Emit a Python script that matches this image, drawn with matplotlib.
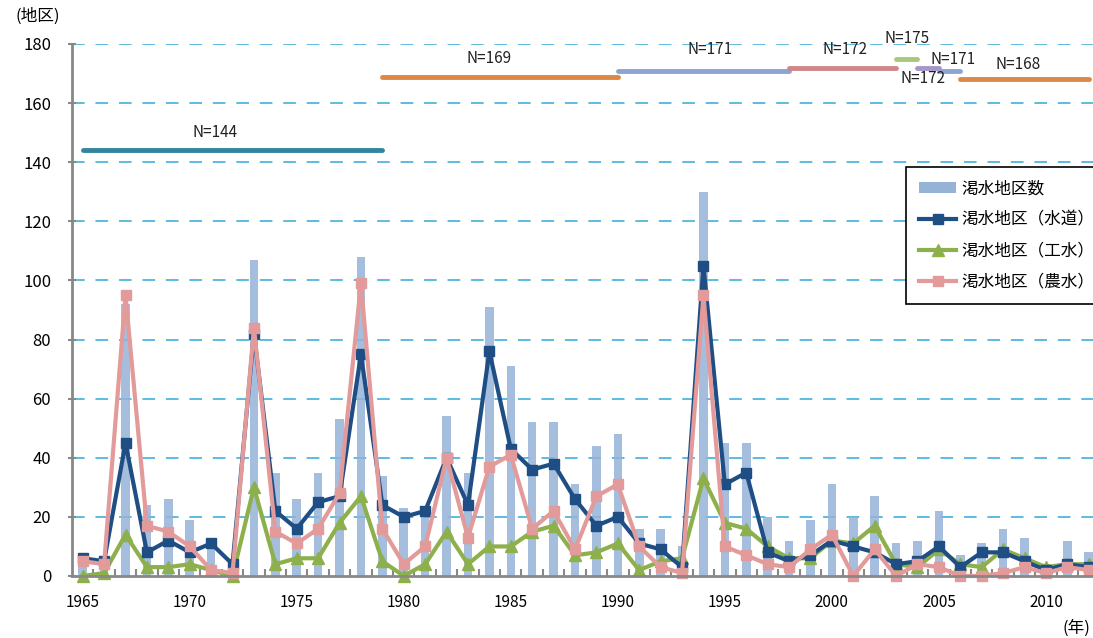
import numpy as np
import matplotlib
matplotlib.use('Agg')
import matplotlib.pyplot as plt
from matplotlib.lines import Line2D
from matplotlib.patches import Patch

plt.rcParams['font.family'] = ['Noto Sans CJK JP', 'DejaVu Sans']

# ---------------------------------------------------------------------------
# Data
# ---------------------------------------------------------------------------

YEARS = list(range(1965, 2013))

# 渇水地区数 (bars)
TOTAL = [7, 5, 92, 24, 26, 19, 9, 2, 107, 35,
         26, 35, 53, 108, 34, 23, 23, 54, 35, 91,
         71, 52, 52, 31, 44, 48, 16, 16, 10, 130,
         45, 45, 20, 12, 19, 31, 20, 27, 11, 12,
         22, 7, 11, 16, 13, 4, 12, 8]

# 渇水地区（水道）
WATER = [6, 5, 45, 8, 12, 8, 11, 4, 82, 22,
         16, 25, 27, 75, 24, 20, 22, 40, 24, 76,
         43, 36, 38, 26, 17, 20, 11, 9, 3, 105,
         31, 35, 8, 5, 7, 12, 10, 8, 4, 5,
         10, 3, 8, 8, 5, 2, 4, 3]

# 渇水地区（工水）
INDUSTRY = [0, 1, 14, 3, 3, 4, 2, 0, 30, 4,
            6, 6, 18, 27, 5, 0, 4, 15, 4, 10,
            10, 15, 17, 7, 8, 11, 2, 5, 6, 33,
            18, 16, 10, 6, 6, 12, 11, 17, 4, 3,
            9, 4, 3, 9, 6, 3, 4, 4]

# 渇水地区（農水）
AGRI = [5, 4, 95, 17, 15, 10, 2, 1, 84, 15,
        11, 16, 28, 99, 16, 4, 10, 40, 13, 37,
        41, 16, 22, 9, 27, 31, 10, 3, 1, 95,
        10, 7, 4, 3, 9, 14, 0, 9, 0, 4,
        3, 0, 0, 1, 3, 1, 3, 2]

# number of surveyed districts per period
N_START = [1965, 1979, 1990, 1998, 2003, 2004, 2005, 2006]
N_END = [1979, 1990, 1998, 2003, 2004, 2005, 2006, 2012]
N_VALUE = [144, 169, 171, 172, 175, 172, 171, 168]

# label placement / colours for the N segments
N_LABEL_XY = [(1971.2, 150.2), (1984.0, 175.2), (1994.3, 178.0),
              (2000.6, 178.3), (2003.5, 181.7), (2004.25, 168.3),
              (2005.65, 174.6), (2008.7, 173.2)]
N_COLORS = ['#31859C', '#DD8844', '#8EA4D0', '#CF8787',
            '#A9C97A', '#A595C8', '#8EA4D0', '#DD8844']

Y_TICKS = list(range(0, 181, 20))
X_LABELS = list(range(1965, 2011, 5))

C_BAR = '#95B3D7'
C_WATER = '#1F4E85'
C_IND = '#8DB04C'
C_AGRI = '#E39A9A'
C_GRID = '#4FB5DE'

# ---------------------------------------------------------------------------
# Plot
# ---------------------------------------------------------------------------

fig = plt.figure(figsize=(10.93, 6.38), dpi=100)
ax = fig.add_axes([72 / 1093, 62 / 638, 1021 / 1093, 532 / 638])

years = np.array(YEARS)

ax.bar(years, TOTAL, width=0.4, color=C_BAR, alpha=0.85, zorder=2)

for y in Y_TICKS[1:]:
    ax.axhline(y, color=C_GRID, lw=1.3, ls=(0, (7, 6)), zorder=1)

ax.plot(years, WATER, color=C_WATER, lw=3, marker='s', ms=7.5,
        zorder=4, clip_on=False)
ax.plot(years, INDUSTRY, color=C_IND, lw=3, marker='^', ms=8.5,
        zorder=3, clip_on=False)
ax.plot(years, AGRI, color=C_AGRI, lw=3, marker='s', ms=7.5,
        zorder=5, clip_on=False)

for x0, x1, n, (lx, ly), c in zip(N_START, N_END, N_VALUE, N_LABEL_XY, N_COLORS):
    ax.plot([x0, x1], [n, n], color=c, lw=3.5, solid_capstyle='round',
            zorder=3, clip_on=False)
    ax.text(lx, ly, f'N={n}', ha='center', va='center', fontsize=11,
            color='#222222', zorder=6, clip_on=False)

ax.set_xlim(1964.5, 2012.2)
ax.set_ylim(0, 180)

ax.set_yticks(Y_TICKS)
ax.set_yticklabels([str(v) for v in Y_TICKS], fontsize=12)
ax.set_xticks(X_LABELS)
ax.set_xticklabels([str(v) for v in X_LABELS], fontsize=11)
ax.set_xticks(np.arange(1965.5, 2012, 1.0), minor=True)
ax.tick_params(axis='x', which='major', length=0, pad=13)
ax.tick_params(axis='x', which='minor', direction='in', length=5,
               width=1.5, color='#888888')
ax.tick_params(axis='y', direction='inout', length=6, width=1.5,
               color='#888888', pad=12)

for s in ('top', 'right'):
    ax.spines[s].set_visible(False)
for s in ('left', 'bottom'):
    ax.spines[s].set_color('#888888')
    ax.spines[s].set_linewidth(2)
    ax.spines[s].set_zorder(6)

handles = [
    Patch(facecolor=C_BAR, edgecolor='none'),
    Line2D([], [], color=C_WATER, lw=3, marker='s', ms=7),
    Line2D([], [], color=C_IND, lw=3, marker='^', ms=8),
    Line2D([], [], color=C_AGRI, lw=3, marker='s', ms=7),
]
labels = ['渇水地区数', '渇水地区（水道）', '渇水地区（工水）', '渇水地区（農水）']
leg = ax.legend(handles, labels, loc='upper left',
                bbox_to_anchor=(906 / 1093, 1 - 167 / 638),
                bbox_transform=fig.transFigure, fontsize=12,
                frameon=True, fancybox=False, framealpha=1,
                edgecolor='black', handlelength=2.2, handletextpad=0.3,
                labelspacing=0.85, borderpad=0.8, borderaxespad=0)
leg.get_frame().set_linewidth(1.2)
leg.set_zorder(10)

fig.text(38 / 1093, 1 - 16 / 638, '(地区)', ha='center', va='center',
         fontsize=12)
fig.text(1090 / 1093, 1 - 628 / 638, '(年)', ha='right', va='center',
         fontsize=12)

fig.savefig('out.png', dpi=100)
